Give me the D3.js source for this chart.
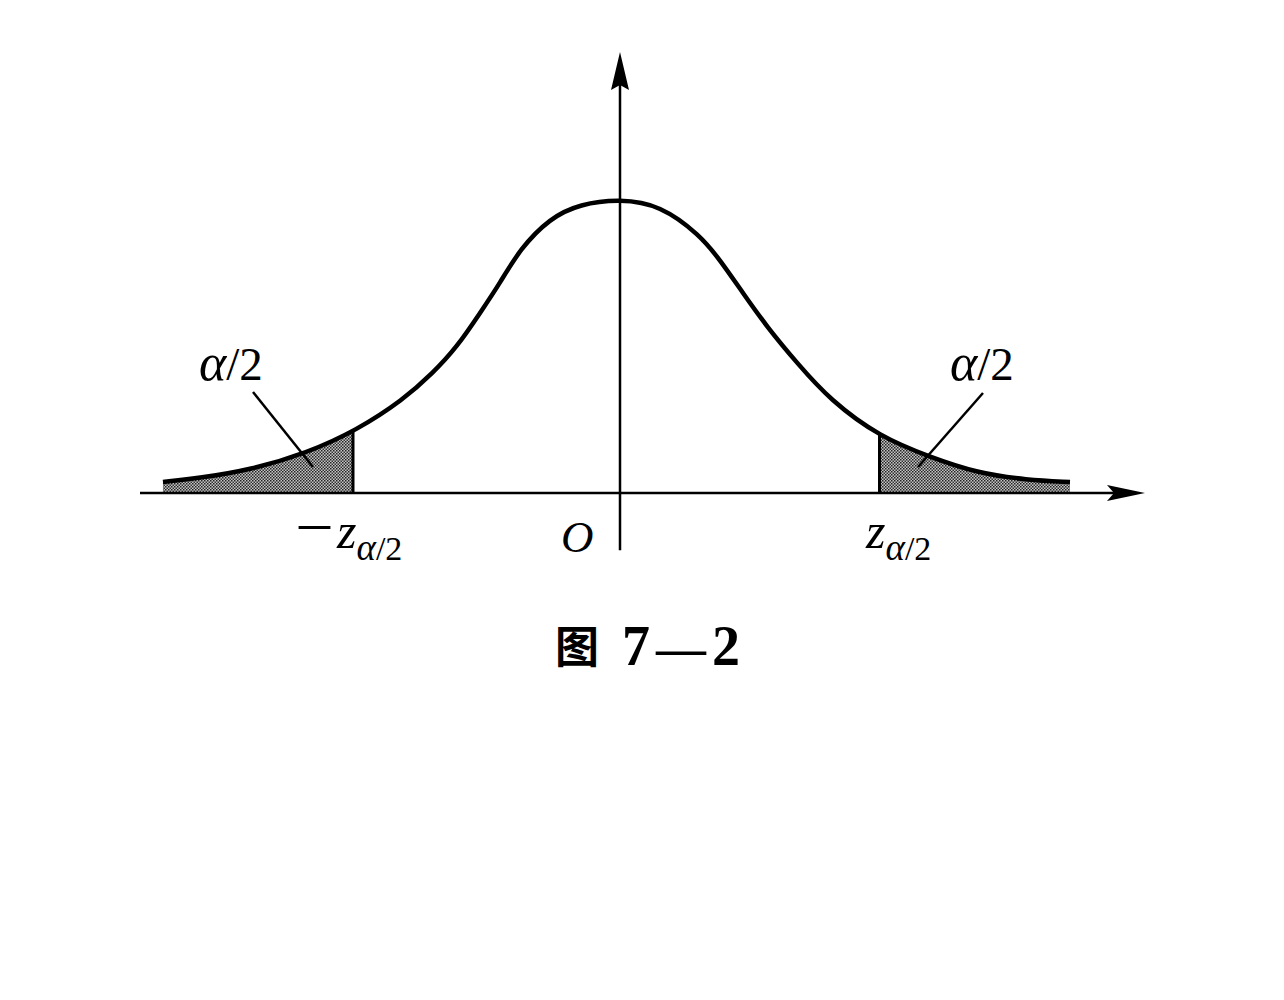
<!DOCTYPE html>
<html>
<head>
<meta charset="utf-8">
<script src="https://cdn.jsdelivr.net/npm/d3@7"></script>
<style>
  html, body { margin: 0; padding: 0; background: #fff; }
  svg { display: block; }
</style>
</head>
<body>
<svg id="chart" width="1284" height="1000"></svg>
<script>
// Curve points (z, density)
const curveZ = [-3.047, -2.8, -2.467, -2.087, -1.753, -1.447, -1.247, -1.087, -0.933, -0.8, -0.667, -0.467, -0.267, 0,
                0.267, 0.533, 0.667, 0.82, 0.98, 1.18, 1.4, 1.733, 2.067, 2.38, 2.713, 3.0];
const curveD = [0.015, 0.0204, 0.0313, 0.0544, 0.0857, 0.1265, 0.1633, 0.1986, 0.2449, 0.2857, 0.332, 0.3741, 0.3932, 0.4,
                0.3918, 0.351, 0.317, 0.272, 0.2259, 0.1769, 0.1265, 0.0762, 0.049, 0.0272, 0.0177, 0.015];
// Critical values (left / right tail boundaries)
const critZ = [-1.78, 1.73];
const xAxisRange = [-3.2, 3.5];
const yAxisRange = [-0.078, 0.6];
const tailLabels = ["α/2", "α/2"];
const caption = ["图", "7", "—", "2"];

const svg = d3.select("#chart");
const x = d3.scaleLinear().domain([-1, 1]).range([470, 770]);   // 150 px per unit, 0 at 620
const y = d3.scaleLinear().domain([0, 0.4]).range([493, 199]);

const pts = curveZ.map((z, i) => ({ z, d: curveD[i] }));

// curve generator
const line = d3.line().x(d => x(d.z)).y(d => y(d.d)).curve(d3.curveBasis);

// sample the rendered curve path to find heights at the critical values
const tmp = svg.append("path").datum(pts).attr("d", line).attr("fill", "none");
const node = tmp.node();
const L = node.getTotalLength();
const samples = [];
for (let s = 0; s <= L; s += 1) {
  const p = node.getPointAtLength(s);
  samples.push([p.x, p.y]);
}
tmp.remove();
const yAtPx = px => {
  for (let i = 0; i < samples.length - 1; i++) {
    if (px >= samples[i][0] && px <= samples[i + 1][0]) {
      const t = (px - samples[i][0]) / ((samples[i + 1][0] - samples[i][0]) || 1);
      return samples[i][1] + t * (samples[i + 1][1] - samples[i][1]);
    }
  }
  return y(0);
};

// pattern for shaded tails
const defs = svg.append("defs");
const pat = defs.append("pattern").attr("id", "dots").attr("patternUnits", "userSpaceOnUse")
  .attr("width", 3).attr("height", 3);
pat.append("rect").attr("width", 3).attr("height", 3).attr("fill", "#c4c4c4");
pat.append("rect").attr("width", 1.5).attr("height", 1.5).attr("fill", "#222");
pat.append("rect").attr("x", 1.5).attr("y", 1.5).attr("width", 1.5).attr("height", 1.5).attr("fill", "#333");

// shaded tails: polygon from sampled curve down to axis
const base = y(0);
const tailPoly = (a, b) => {
  const seg = samples.filter(p => p[0] >= a && p[0] <= b);
  const poly = [[a, base], [a, yAtPx(a)]].concat(seg).concat([[b, yAtPx(b)], [b, base]]);
  return "M" + poly.map(p => p.join(",")).join("L") + "Z";
};
const leftEnd = x(curveZ[0]), rightEnd = x(curveZ[curveZ.length - 1]);
svg.append("path").attr("d", tailPoly(leftEnd, x(critZ[0]))).attr("fill", "url(#dots)");
svg.append("path").attr("d", tailPoly(x(critZ[1]), rightEnd)).attr("fill", "url(#dots)");

// vertical boundary lines
critZ.forEach(z => {
  svg.append("line").attr("x1", x(z)).attr("x2", x(z)).attr("y1", base).attr("y2", yAtPx(x(z)))
    .attr("stroke", "#000").attr("stroke-width", 3);
});

// curve
svg.append("path").datum(pts).attr("d", line).attr("fill", "none")
  .attr("stroke", "#000").attr("stroke-width", 4.5).attr("stroke-linecap", "butt");

// axes
svg.append("line").attr("x1", x(xAxisRange[0])).attr("x2", x(xAxisRange[1]) - 20)
  .attr("y1", base).attr("y2", base).attr("stroke", "#000").attr("stroke-width", 2.5);
svg.append("line").attr("x1", x(0)).attr("x2", x(0))
  .attr("y1", y(yAxisRange[0])).attr("y2", y(yAxisRange[1]) + 20).attr("stroke", "#000").attr("stroke-width", 2.5);

// arrowheads
const xt = x(xAxisRange[1]);
svg.append("path").attr("d", `M${xt},${base} L${xt - 38},${base - 8} L${xt - 31},${base} L${xt - 38},${base + 8} Z`).attr("fill", "#000");
const yt = y(yAxisRange[1]), x0 = x(0);
svg.append("path").attr("d", `M${x0},${yt} L${x0 - 9},${yt + 38} L${x0},${yt + 33} L${x0 + 9},${yt + 38} Z`).attr("fill", "#000");

// leader lines and α/2 labels
const serif = "'Liberation Serif', 'DejaVu Serif', serif";
const leader = [
  { x1: 253, y1: 392, x2: 313, y2: 467, lx: 199, ly: 380 },
  { x1: 983, y1: 393, x2: 918, y2: 467, lx: 950, ly: 380 }
];
leader.forEach((l, i) => {
  svg.append("line").attr("x1", l.x1).attr("y1", l.y1).attr("x2", l.x2).attr("y2", l.y2)
    .attr("stroke", "#000").attr("stroke-width", 2.5);
  const t = svg.append("text").attr("x", l.lx).attr("y", l.ly)
    .attr("font-family", serif).attr("font-size", 47).attr("fill", "#000");
  t.append("tspan").attr("font-style", "italic").attr("font-size", 52).text(tailLabels[i].charAt(0));
  t.append("tspan").text(tailLabels[i].slice(1));
});

// axis labels
const lbl = (xx, minus) => {
  if (minus) {
    svg.append("text").attr("x", xx - 38).attr("y", 542).attr("font-family", serif)
      .attr("font-size", 62).text("–");
  }
  const t = svg.append("text").attr("x", xx).attr("y", 548)
    .attr("font-family", serif).attr("font-size", 50).attr("fill", "#000");
  t.append("tspan").attr("font-style", "italic").text("z");
  const s = t.append("tspan").attr("font-size", 34).attr("dy", 12);
  s.append("tspan").attr("font-style", "italic").attr("font-size", 37).text("α");
  s.append("tspan").text("/2");
};
lbl(337, true);
lbl(866, false);
svg.append("text").attr("x", 561).attr("y", 552).attr("font-family", serif).attr("font-size", 45)
  .attr("font-style", "italic").text("O");

// caption
svg.append("text").attr("x", 555).attr("y", 663).attr("font-weight", "bold")
  .attr("font-family", "'Noto Sans CJK SC', sans-serif").attr("font-size", 44).text(caption[0]);
const capNum = svg.append("text").attr("y", 665).attr("font-weight", "bold")
  .attr("font-family", serif).attr("font-size", 56).attr("fill", "#000");
capNum.append("tspan").attr("x", 622).text(caption[1]);
capNum.append("tspan").attr("x", 656).attr("font-size", 50).text(caption[2]);
capNum.append("tspan").attr("x", 712).text(caption[3]);
</script>
</body>
</html>
